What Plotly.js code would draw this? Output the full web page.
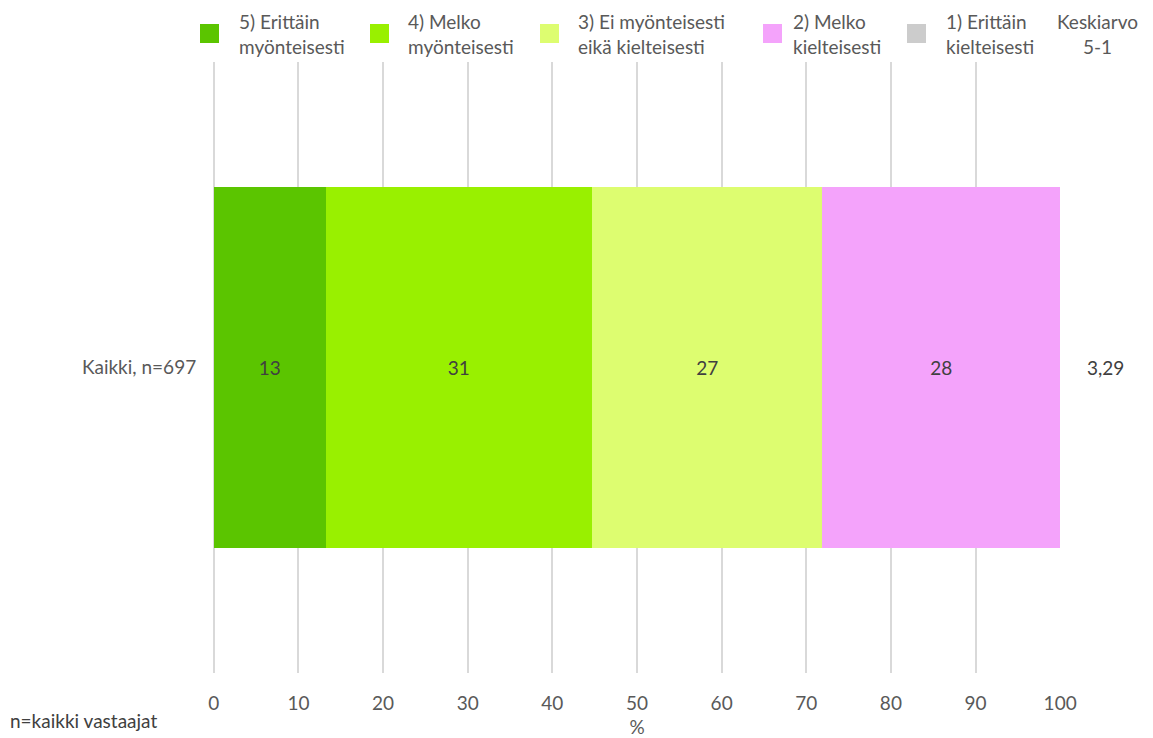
<!DOCTYPE html>
<html>
<head>
<meta charset="utf-8">
<script src="https://cdn.plot.ly/plotly-3.0.1.min.js"></script>
<style>
html,body{margin:0;padding:0;background:#fff;}
#chart{width:1153px;height:738px;}
</style>
</head>
<body>
<div id="chart"></div>
<script>
const categories = ["Kaikki, n=697"];
const seriesNames = ["5) Erittäin<br>myönteisesti", "4) Melko<br>myönteisesti", "3) Ei myönteisesti<br>eikä kielteisesti", "2) Melko<br>kielteisesti", "1) Erittäin<br>kielteisesti"];
const seriesValues = [[13.2], [31.5], [27.2], [28.1], [0]];
const seriesLabels = [["13"], ["31"], ["27"], ["28"], [""]];
const seriesColors = ["#5bc500", "#99f000", "#ddfd70", "#f4a3fb", "#cccccc"];
const meanValues = ["3,29"];
const meanTitle = "Keskiarvo<br>5-1";
const xTicks = [0, 10, 20, 30, 40, 50, 60, 70, 80, 90, 100];
const footnote = "n=kaikki vastaajat";
const xTitle = "%";

const FONT = "Lato, 'Open Sans', sans-serif";
const FS = 19;
const traces = seriesNames.map((n, i) => ({
  type: "bar",
  orientation: "h",
  name: n,
  y: categories,
  x: seriesValues[i],
  text: seriesLabels[i],
  textposition: "inside",
  insidetextanchor: "middle",
  textangle: 0,
  constraintext: "none",
  textfont: {family: FONT, size: FS, color: "#404040"},
  marker: {color: seriesColors[i], line: {width: 0}},
  hoverinfo: "x+name",
  showlegend: false
}));

// custom legend
const legendSquareX = [200, 370, 540, 763, 907];
const legendTextX = [237, 406, 576, 791, 944];
const W = 1153, H = 738;
const shapes = [];
const annotations = [];
seriesNames.forEach((n, i) => {
  shapes.push({type: "rect", xref: "paper", yref: "paper",
    x0: (legendSquareX[i] - 213) / 848, x1: (legendSquareX[i] + 19 - 213) / 848,
    y0: (673 - 43) / 611, y1: (673 - 24) / 611,
    fillcolor: seriesColors[i], line: {width: 0}});
  annotations.push({xref: "paper", yref: "paper",
    x: (legendTextX[i] - 213) / 848, y: (673 - 34) / 611,
    xanchor: "left", yanchor: "middle", align: "left", showarrow: false,
    text: n, font: {family: FONT, size: FS, color: "#595959"}});
});
annotations.push({xref: "paper", yref: "paper", x: (1097 - 213) / 848, y: (673 - 34) / 611,
  xanchor: "center", yanchor: "middle", align: "center", showarrow: false,
  text: meanTitle, font: {family: FONT, size: FS, color: "#595959"}});
categories.forEach((c, j) => {
  annotations.push({xref: "paper", yref: "y", x: (1105 - 213) / 848, y: c,
    xanchor: "center", yanchor: "middle", showarrow: false,
    text: meanValues[j], font: {family: FONT, size: FS, color: "#404040"}});
});
annotations.push({xref: "paper", yref: "paper", x: (8 - 213) / 848, y: (673 - 720) / 611,
  xanchor: "left", yanchor: "middle", showarrow: false,
  text: footnote, font: {family: FONT, size: FS, color: "#404040"}});

const layout = {
  width: W, height: H,
  margin: {l: 213, r: 92, t: 62, b: 65},
  paper_bgcolor: "#fff", plot_bgcolor: "#fff",
  barmode: "stack",
  bargap: 0.41,
  font: {family: FONT, size: FS, color: "#595959"},
  xaxis: {
    range: [-0.1, 100.1], tickvals: xTicks, ticktext: xTicks.map(String),
    showgrid: true, gridcolor: "#d9d9d9", gridwidth: 1.5,
    zeroline: true, zerolinecolor: "#d9d9d9", zerolinewidth: 1.5, showline: false,
    ticks: "outside", ticklen: 13, tickcolor: "rgba(0,0,0,0)",
    tickfont: {family: FONT, size: FS, color: "#595959"},
    title: {text: xTitle, standoff: 14, font: {family: FONT, size: FS, color: "#595959"}},
    fixedrange: true
  },
  yaxis: {
    showgrid: false, zeroline: false, showline: false,
    ticks: "outside", ticklen: 12, tickcolor: "rgba(0,0,0,0)",
    tickfont: {family: FONT, size: FS, color: "#595959"},
    fixedrange: true
  },
  shapes: shapes,
  annotations: annotations,
  showlegend: false
};
Plotly.newPlot("chart", traces, layout, {displayModeBar: false});
</script>
</body>
</html>
